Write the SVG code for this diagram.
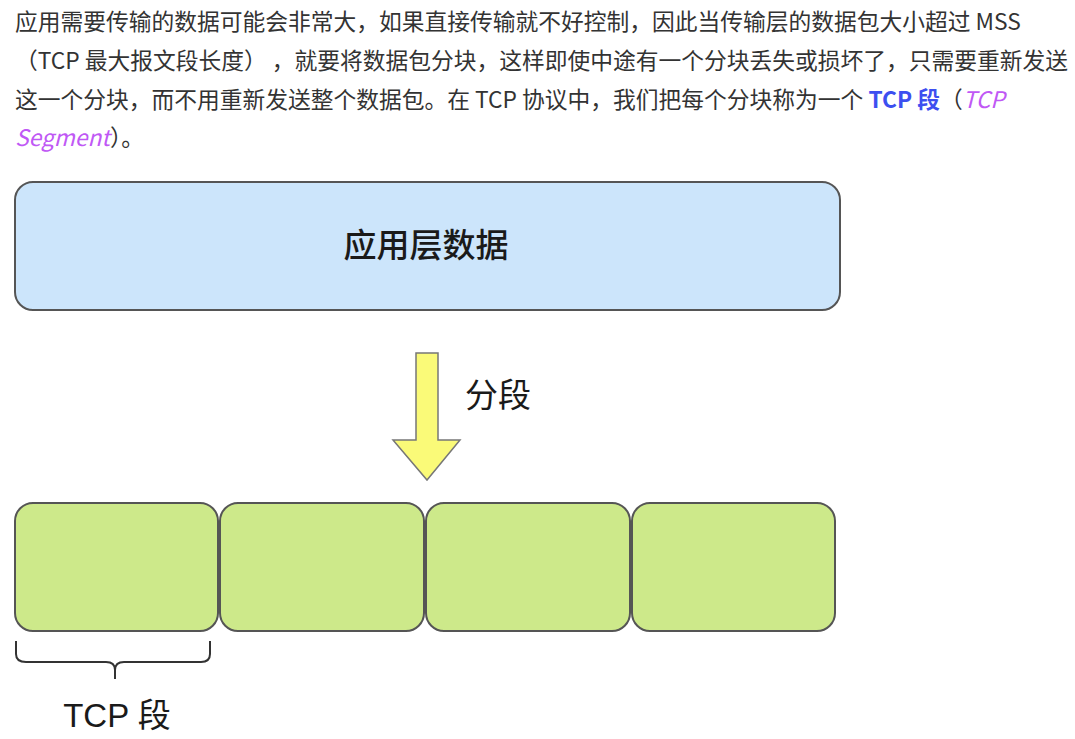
<svg xmlns="http://www.w3.org/2000/svg" width="1075" height="739" viewBox="0 0 1075 739">
<style>
.p{font-family:"Noto Sans CJK SC","Microsoft YaHei",sans-serif;font-size:22.75px;fill:#333333}
.b{fill:#3d4ff0;font-weight:bold}
.i{fill:#c058f5;font-style:italic}
.lbl{font-family:"Liberation Sans","Noto Sans CJK SC",sans-serif;font-size:33px;fill:#1a1a1a}
.box{stroke:#555555;stroke-width:2}
.blue{fill:#cce5fb}
.green{fill:#cde98a}
</style>
<rect width="1075" height="739" fill="#ffffff"/>
<g id="paragraph">
<text class="p" x="15" y="30">应用需要传输的数据可能会非常大，如果直接传输就不好控制，因此当传输层的数据包大小超过 MSS</text>
<text class="p" x="15" y="69">（TCP 最大报文段长度） ，就要将数据包分块，这样即使中途有一个分块丢失或损坏了，只需要重新发送</text>
<text class="p" x="15" y="108">这一个分块，而不用重新发送整个数据包。在 TCP 协议中，我们把每个分块称为一个 <tspan class="b">TCP 段</tspan>（<tspan class="i">TCP</tspan></text>
<text class="p" x="15" y="146"><tspan class="i">Segment</tspan>）。</text>
</g>
<g id="app-data">
<rect class="box blue" x="15" y="182" width="825" height="128" rx="18"/>
<text class="lbl" x="426" y="257" text-anchor="middle" font-size="34" font-weight="500">应用层数据</text>
</g>
<g id="connectors">
<path d="M416,353 H438 V440 H460 L427,480 L393,440 H416 Z" fill="#fafa78" stroke="#777777" stroke-width="1.5"/>
<text class="lbl" x="465" y="407" font-size="33">分段</text>
</g>
<g id="seg1"><rect class="box green" x="15" y="503" width="203" height="128" rx="18"/></g>
<g id="seg2"><rect class="box green" x="220" y="503" width="204" height="128" rx="18"/></g>
<g id="seg3"><rect class="box green" x="426" y="503" width="204" height="128" rx="18"/></g>
<g id="seg4"><rect class="box green" x="632" y="503" width="203" height="128" rx="18"/></g>
<g id="brace">
<path d="M16,641 V654 Q16,662 26,662 H106 Q115,662 115,670 V679 M115,670 Q115,662 124,662 H201 Q210,662 210,654 V641" fill="none" stroke="#333333" stroke-width="2"/>
<text class="lbl" x="117" y="727" text-anchor="middle" font-size="34">TCP 段</text>
</g>
</svg>
